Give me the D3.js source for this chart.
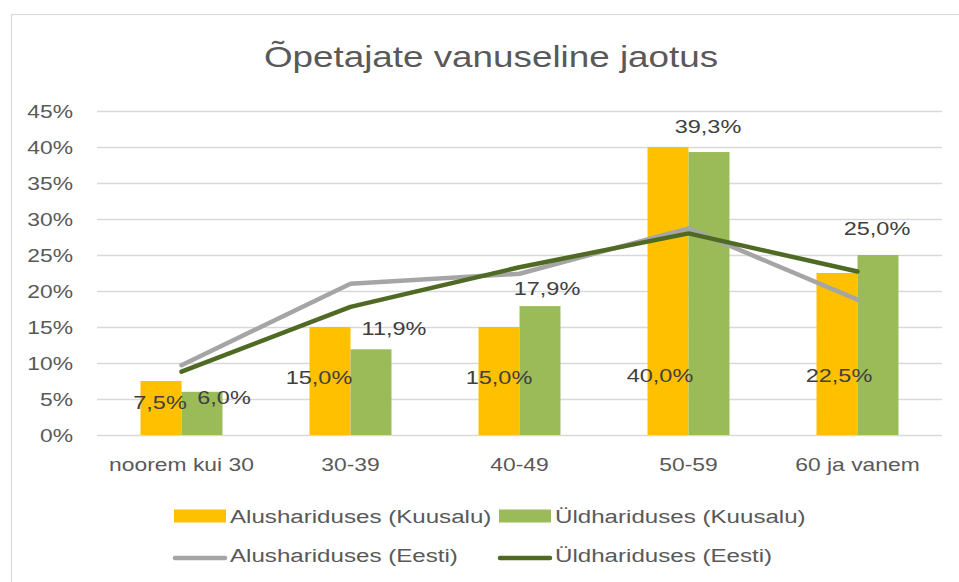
<!DOCTYPE html>
<html><head><meta charset="utf-8">
<script src="https://cdn.jsdelivr.net/npm/d3@7"></script>
<style>body{margin:0;background:#fff}svg{display:block}</style>
</head><body>
<svg id="c" width="959" height="582"></svg>
<script>
// ---- data ----
const title = "Õpetajate vanuseline jaotus";
const categories = ["noorem kui 30", "30-39", "40-49", "50-59", "60 ja vanem"];
const alusKuusalu = [7.5, 15.0, 15.0, 40.0, 22.5];
const yldKuusalu  = [6.0, 11.9, 17.9, 39.3, 25.0];
const alusEesti   = [9.7, 21.0, 22.4, 28.7, 18.8];
const yldEesti    = [8.8, 17.8, 23.3, 28.0, 22.7];
const yTicks = [0, 5, 10, 15, 20, 25, 30, 35, 40, 45];
const seriesNames = ["Alushariduses (Kuusalu)", "Üldhariduses (Kuusalu)", "Alushariduses (Eesti)", "Üldhariduses (Eesti)"];

// label placement tweaks (px), relative to bar centre / bar top
const alusLabelOff = [[-1, 21], [-11, 50], [0, 50], [-8, 228], [2, 102]];
const yldLabelOff  = [[22, 6], [23, -21], [7, -18], [-1, -26], [-1, -27]];

// ---- style ----
const C = {yellow: "#FFC000", green: "#9BBB59", gray: "#A5A5A5", dark: "#4F6A23", grid: "#D9D9D9", axisTxt: "#595959", lblTxt: "#404040"};
const SX = 1.27; // horizontal text stretch
const FONT = "'Liberation Sans', Arial, sans-serif";

const svg = d3.select("#c");
const fmt = v => v.toFixed(1).replace(".", ",") + "%";

function txt(g, x, y, s, size, color, anchor) {
  return g.append("text")
    .attr("transform", `translate(${x},${y}) scale(${SX},1)`)
    .attr("text-anchor", anchor || "middle")
    .attr("dominant-baseline", "central")
    .style("font-family", FONT).style("font-size", size + "px")
    .attr("fill", color).text(s);
}

// chart border
svg.append("rect").attr("x", 11.5).attr("y", 14.5).attr("width", 970).attr("height", 600)
  .attr("fill", "#fff").attr("stroke", C.grid).attr("stroke-width", 1.2);

// scales
const plot = {left: 97, right: 942, top: 111, bottom: 435};
const x = d3.scaleBand().domain(categories).range([plot.left, plot.right]).paddingInner(0).paddingOuter(0);
const y = d3.scaleLinear().domain([0, 45]).range([plot.bottom, plot.top]);
const barW = 41;
const xs = d3.scaleBand().domain([0, 1]).range([-barW, barW]);

// title
txt(svg, 491, 57, title, 29, C.axisTxt);

// grid
svg.append("g").selectAll("line").data(yTicks).join("line")
  .attr("x1", plot.left).attr("x2", plot.right)
  .attr("y1", d => Math.round(y(d)) + 0.5).attr("y2", d => Math.round(y(d)) + 0.5)
  .attr("stroke", C.grid).attr("stroke-width", 1.3);

// y tick labels
const yl = svg.append("g");
yTicks.forEach(t => txt(yl, 73, y(t), t + "%", 18, C.axisTxt, "end"));

// x labels
const xl = svg.append("g");
categories.forEach(c => txt(xl, x(c) + x.bandwidth() / 2, 464, c, 18, C.axisTxt));

// bars
const bars = svg.append("g");
const barSeries = [alusKuusalu, yldKuusalu];
const barColors = [C.yellow, C.green];
barSeries.forEach((vals, si) => {
  bars.selectAll(null).data(vals).join("rect")
    .attr("x", (d, i) => x(categories[i]) + x.bandwidth() / 2 + xs(si))
    .attr("y", d => y(d))
    .attr("width", xs.bandwidth())
    .attr("height", d => y(0) - y(d))
    .attr("fill", barColors[si]);
});

// lines
const line = d3.line().x((d, i) => x(categories[i]) + x.bandwidth() / 2).y(d => y(d));
svg.append("path").datum(alusEesti).attr("d", line).attr("fill", "none")
  .attr("stroke", C.gray).attr("stroke-width", 4.5).attr("stroke-linejoin", "round").attr("stroke-linecap", "round");
svg.append("path").datum(yldEesti).attr("d", line).attr("fill", "none")
  .attr("stroke", C.dark).attr("stroke-width", 4.5).attr("stroke-linejoin", "round").attr("stroke-linecap", "round");

// data labels
const dl = svg.append("g");
alusKuusalu.forEach((v, i) => {
  const cx = x(categories[i]) + x.bandwidth() / 2 + xs(0) + xs.bandwidth() / 2;
  txt(dl, cx + alusLabelOff[i][0], y(v) + alusLabelOff[i][1], fmt(v), 18.5, C.lblTxt);
});
yldKuusalu.forEach((v, i) => {
  const cx = x(categories[i]) + x.bandwidth() / 2 + xs(1) + xs.bandwidth() / 2;
  txt(dl, cx + yldLabelOff[i][0], y(v) + yldLabelOff[i][1], fmt(v), 18.5, C.lblTxt);
});

// legend
const lg = svg.append("g");
const legendItems = [
  {name: seriesNames[0], type: "rect", color: C.yellow, x: 174, y: 516},
  {name: seriesNames[1], type: "rect", color: C.green, x: 499, y: 516},
  {name: seriesNames[2], type: "line", color: C.gray, x: 174, y: 555},
  {name: seriesNames[3], type: "line", color: C.dark, x: 499, y: 555}
];
legendItems.forEach(it => {
  if (it.type === "rect") {
    lg.append("rect").attr("x", it.x).attr("y", it.y - 6.5).attr("width", 52).attr("height", 13).attr("fill", it.color);
  } else {
    lg.append("line").attr("x1", it.x + 1).attr("x2", it.x + 51).attr("y1", it.y + 3).attr("y2", it.y + 3)
      .attr("stroke", it.color).attr("stroke-width", 4.5).attr("stroke-linecap", "round");
  }
  txt(lg, it.x + 56, it.y, it.name, 19, C.axisTxt, "start");
});
</script>
</body></html>
